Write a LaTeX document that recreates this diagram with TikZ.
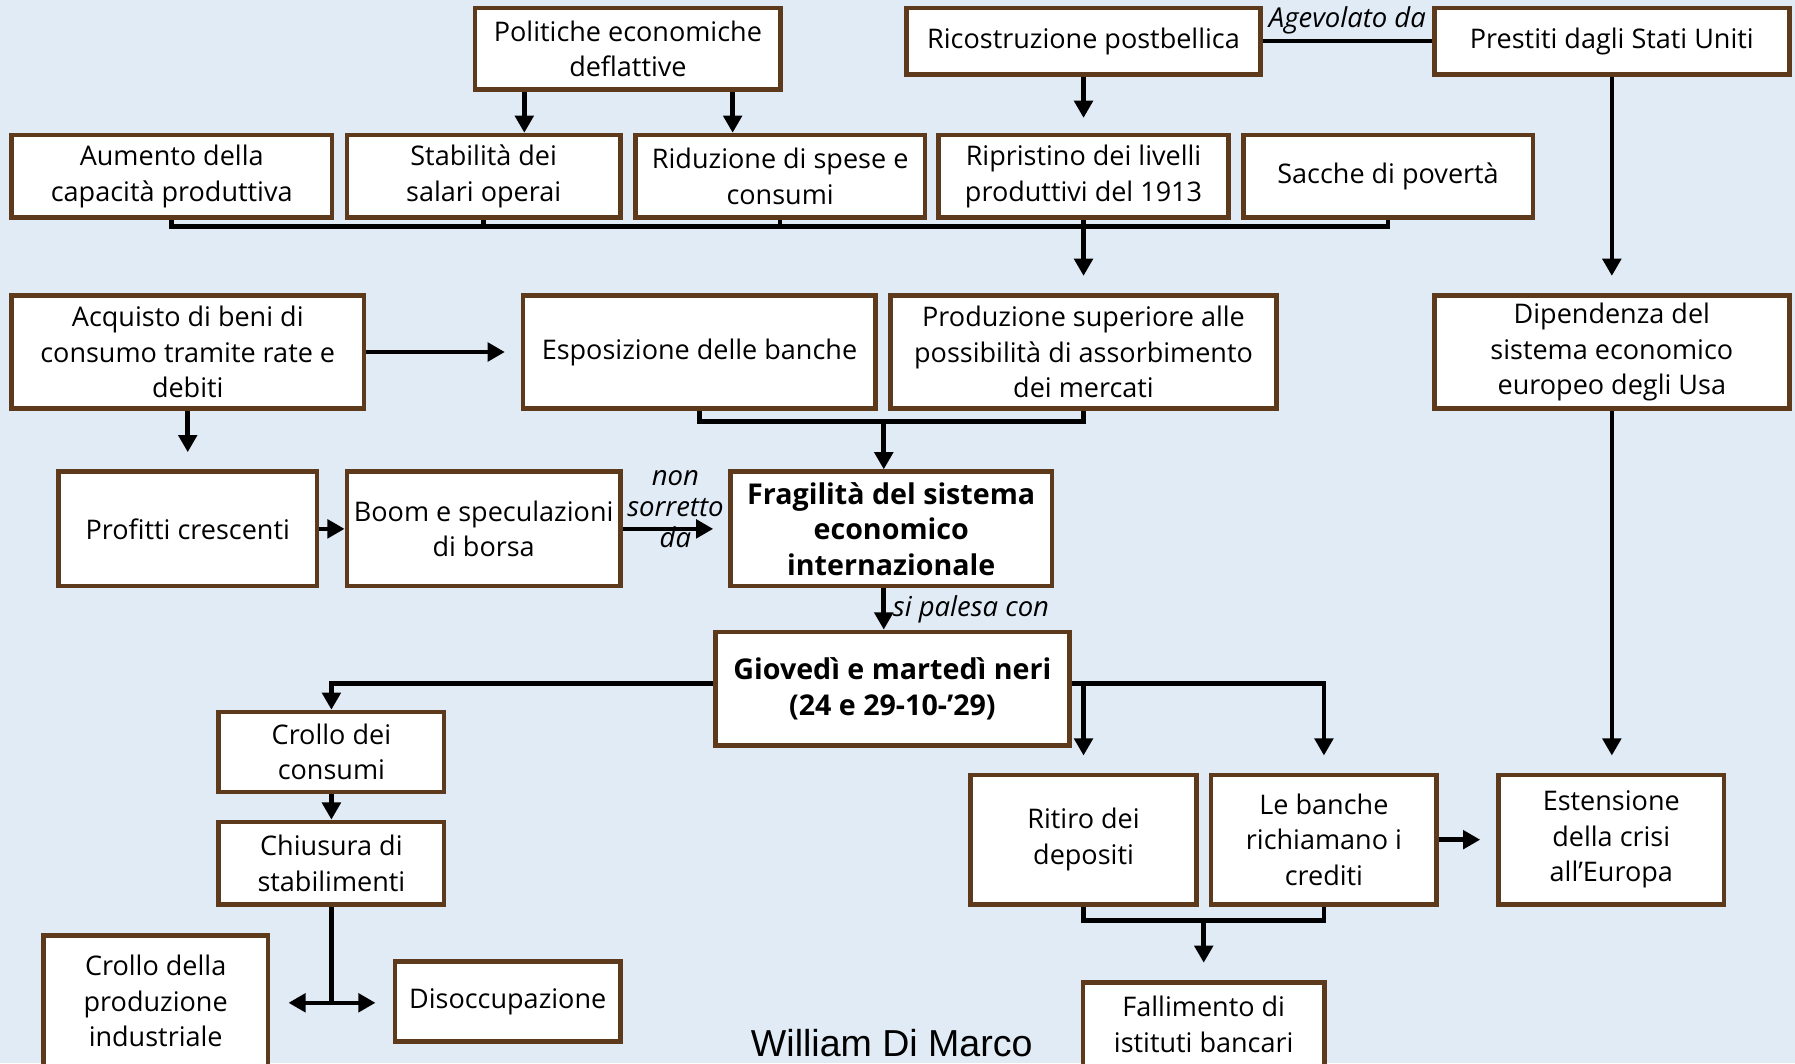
\documentclass[tikz,border=0pt]{standalone}
\usepackage{fontspec}
\setmainfont{Open Sans}
\newfontfamily\arialf{Liberation Sans}
\usetikzlibrary{arrows.meta,calc}
\definecolor{bgc}{RGB}{225,235,245}
\definecolor{brd}{RGB}{94,58,28}
\begin{document}
\begin{tikzpicture}[x=0.5pt,y=-0.5pt,
  box/.style={draw=brd, fill=white, line width=2pt, inner sep=0pt, align=center,
    font=\fontsize{11.8}{15.5}\selectfont},
  bbox/.style={box, font=\bfseries\fontsize{12.5}{15.5}\selectfont},
  conn/.style={line width=2pt},
  arr/.style={conn, -{Triangle[width=8pt,length=7.5pt]}},
  lbl/.style={font=\itshape\fontsize{12}{13.5}\selectfont, inner sep=1pt, align=center}]
\useasboundingbox (0,0) rectangle (1568,929);
\fill[bgc] (0,0) rectangle (1568,929);

% top row
\node[box, minimum width=133.5pt, minimum height=35.5pt] (pol) at (548.5,42.5) {Politiche economiche\\deflattive};
\node[box, minimum width=154.5pt, minimum height=29pt] (ric) at (946.5,36) {Ricostruzione postbellica};
\node[box, minimum width=155pt, minimum height=29pt] (pre) at (1408,36) {Prestiti dagli Stati Uniti};

% row 2
\node[box, minimum width=140pt, minimum height=36pt] (aum) at (150,154) {Aumento della\\capacità produttiva};
\node[box, minimum width=119.5pt, minimum height=36pt] (sta) at (422.5,154) {Stabilità dei\\salari operai};
\node[box, minimum width=126.5pt, minimum height=36pt] (rid) at (681.5,154) {Riduzione di spese e\\consumi};
\node[box, minimum width=126.5pt, minimum height=36pt] (rip) at (946.5,154) {Ripristino dei livelli\\produttivi del 1913};
\node[box, minimum width=126.5pt, minimum height=36pt] (sac) at (1212.5,154) {Sacche di povertà};

% row 3
\node[box, minimum width=154pt, minimum height=49.5pt] (acq) at (164,307.5) {Acquisto di beni di\\consumo tramite rate e\\debiti};
\node[box, minimum width=154pt, minimum height=49.5pt] (esp) at (611,307.5) {Esposizione delle banche};
\node[box, minimum width=168.5pt, minimum height=49.5pt] (pro) at (946.5,307.5) {Produzione superiore alle\\possibilità di assorbimento\\dei mercati};
\node[box, minimum width=155pt, minimum height=49.5pt] (dip) at (1408,307.5) {Dipendenza del\\sistema economico\\europeo degli Usa};

% row 4
\node[box, minimum width=113pt, minimum height=50pt] (prf) at (164,462) {Profitti crescenti};
\node[box, minimum width=119.5pt, minimum height=50pt] (boo) at (422.5,462) {Boom e speculazioni\\di borsa};
\node[bbox, minimum width=140.5pt, minimum height=50pt] (fra) at (778.5,462) {Fragilità del sistema\\economico\\internazionale};

% Giovedi
\node[bbox, minimum width=154.5pt, minimum height=49.5pt] (gio) at (779.5,601.5) {Giovedì e martedì neri\\(24 e 29-10-’29)};

% left column
\node[box, minimum width=98.5pt, minimum height=35pt] (ccs) at (289.5,657) {Crollo dei\\consumi};
\node[box, minimum width=98.5pt, minimum height=36pt] (chi) at (289.5,754) {Chiusura di\\stabilimenti};
\node[box, minimum width=98pt, minimum height=57.5pt] (cpr) at (136,874.5) {Crollo della\\produzione\\industriale};
\node[box, minimum width=98.5pt, minimum height=35pt] (dis) at (443.5,875) {Disoccupazione};

% right column
\node[box, minimum width=98.5pt, minimum height=56.5pt] (rit) at (946.5,733.5) {Ritiro dei\\depositi};
\node[box, minimum width=98.5pt, minimum height=56.5pt] (ban) at (1156.5,733.5) {Le banche\\richiamano i\\crediti};
\node[box, minimum width=98.5pt, minimum height=56.5pt] (est) at (1407.5,733.5) {Estensione\\della crisi\\all’Europa};
\node[box, minimum width=105.5pt, minimum height=37pt] (fal) at (1051.5,895) {Fallimento di\\istituti bancari};

\node[font=\arialf\fontsize{16.4}{18}\selectfont, inner sep=0pt, anchor=base] (wdm) at (779,923) {William Di Marco};

% helper coordinates
\coordinate (xa) at (458,0);
\coordinate (xb) at (640,0);
\coordinate (xc) at (772,0);
\coordinate (bus) at (0,198);
\coordinate (j1) at (0,368);
\coordinate (yg) at (0,597);
\coordinate (yd) at (0,876);
\coordinate (yj) at (0,804);

% connectors
\draw[arr] (pol.south -| xa) -- (sta.north -| xa);
\draw[arr] (pol.south -| xb) -- (rid.north -| xb);
\draw[arr, shorten >=6.5pt] (ric.south) -- (ric.south |- rip.north);
\draw[conn] (ric.east) -- node[lbl, above=1pt] (lag) {Agevolato da} (pre.west);

\draw[conn] (aum.south) -- (aum.south |- bus) -- (sac.south |- bus) -- (sac.south);
\draw[conn] (sta.south) -- (sta.south |- bus);
\draw[conn] (rid.south) -- (rid.south |- bus);
\draw[conn] (rip.south) -- (rip.south |- bus);
\draw[arr, shorten >=7.5pt] (rip.south |- bus) -- (pro.north);

\draw[arr, shorten >=7.5pt] (pre.south) -- (dip.north);

\draw[arr, shorten >=7pt] (acq.east) -- (esp.west);
\draw[arr, shorten >=7.5pt] (acq.south) -- (prf.north);

\draw[conn] (esp.south) -- (esp.south |- j1) -- (pro.south |- j1) -- (pro.south);
\draw[arr] (xc |- j1) -- (xc |- fra.north);

\draw[arr] (prf.east) -- (boo.west);
\draw[arr, shorten >=6.5pt] (boo.east) -- (fra.west);
\node[lbl] (lnsd) at (590,445) {non\\sorretto\\da};

\draw[arr] (xc |- fra.south) -- node[lbl, right=2pt] (lsp) {si palesa con} (xc |- gio.north);

\draw[arr] (gio.west |- yg) -- (ccs.north |- yg) -- (ccs.north);
\draw[arr, shorten >=7.5pt] (gio.east |- yg) -- (ban.north |- yg) -- (ban.north);
\draw[arr, shorten >=7.5pt] (rit.north |- yg) -- (rit.north);

\draw[arr] (ccs.south) -- (chi.north);
\draw[conn] (chi.south) -- (chi.south |- yd);
\draw[conn, {Triangle[width=8pt,length=7.5pt]}-{Triangle[width=8pt,length=7.5pt]}, shorten <=8pt, shorten >=7.5pt] (cpr.east |- yd) -- (dis.west |- yd);

\draw[conn] (rit.south) -- (rit.south |- yj) -- (ban.south |- yj) -- (ban.south);
\draw[arr, shorten >=7.5pt] (fal.north |- yj) -- (fal.north);

\draw[arr, shorten >=7pt] (ban.east) -- (est.west);
\draw[arr, shorten >=7.5pt] (dip.south) -- (dip.south |- est.north);
\end{tikzpicture}
\end{document}
